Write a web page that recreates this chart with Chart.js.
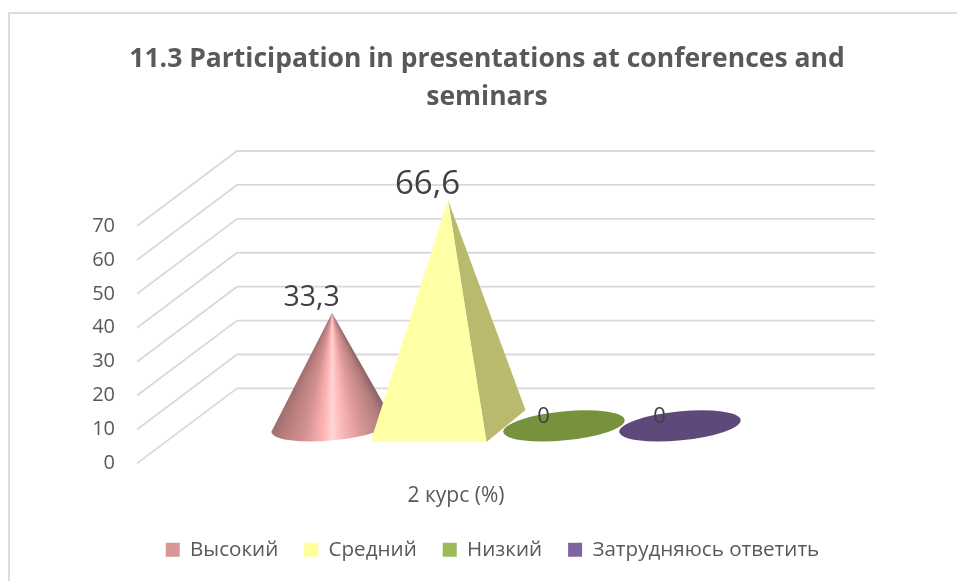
<!DOCTYPE html>
<html>
<head>
<meta charset="utf-8">
<title>11.3 Participation in presentations</title>
<script src="https://cdn.jsdelivr.net/npm/chart.js@4"></script>
<style>
  html, body { margin: 0; padding: 0; background: #fff; }
  #wrap { position: relative; width: 957px; height: 581px; overflow: hidden; }
  #frame { position: absolute; left: 8px; top: 12px; width: 949px; height: 569px; border-left: 2px solid #dcdcdc; border-top: 2px solid #dcdcdc; box-sizing: border-box; }
  canvas { position: absolute; left: 0; top: 0; }
</style>
</head>
<body>
<div id="wrap">
  <div id="frame"></div>
  <canvas id="chart" width="957" height="581"></canvas>
</div>
<script>
const titleLines = ["11.3 Participation in presentations at conferences and", "seminars"];
const categories = ["2 курс (%)"];
const seriesNames = ["Высокий", "Средний", "Низкий", "Затрудняюсь ответить"];
const seriesValues = [33.3, 66.6, 0, 0];
const valueLabels = ["33,3", "66,6", "0", "0"];
const legendColors = ["#d99694", "#ffff99", "#9bbb59", "#8064a2"];
const discColors = [null, null, "#76923c", "#5f497a"];

const FONT = '"Open Sans", sans-serif';
const TEXT = "#595959";
const DEPTH_X = 100;
const DEPTH_Y = -75;
const labelSizes = [28.5, 33, 22, 22];

// cone: shaded by angle around the tip, pyramid and zero discs are flat
function drawCone(ctx, cx, baseY, tipY, halfW) {
  const grad = ctx.createConicGradient(0, cx, tipY);
  const stops = [[58, "#7d5454"], [66, "#b27d7d"], [78, "#e09b9b"], [86, "#ffbcbc"], [90, "#ffd6d6"],
    [94, "#ffb4b4"], [103, "#d29090"], [112, "#b67c7c"], [118, "#9c6a6a"]];
  stops.forEach((s) => grad.addColorStop(s[0] / 360, s[1]));
  ctx.beginPath();
  ctx.moveTo(cx, tipY);
  ctx.ellipse(cx, baseY, halfW + 3, 14.5, -0.098, Math.PI, 0, true);
  ctx.closePath();
  ctx.fillStyle = grad;
  ctx.fill();
}

function drawPyramid(ctx, cx, baseY, tipY, halfW) {
  const dx = 19.5, dy = -16;
  ctx.beginPath();
  ctx.moveTo(cx, tipY);
  ctx.lineTo(cx + halfW - dx, baseY - dy);
  ctx.lineTo(cx + halfW + dx, baseY + dy);
  ctx.closePath();
  ctx.fillStyle = "#baba6e";
  ctx.fill();
  ctx.beginPath();
  ctx.moveTo(cx, tipY);
  ctx.lineTo(cx - halfW - dx, baseY - dy);
  ctx.lineTo(cx + halfW - dx, baseY - dy);
  ctx.closePath();
  ctx.fillStyle = "#ffffa6";
  ctx.fill();
}

function drawDisc(ctx, cx, baseY, halfW, color) {
  ctx.beginPath();
  ctx.ellipse(cx, baseY, halfW + 3, 14.5, -0.098, 0, Math.PI * 2);
  ctx.fillStyle = color;
  ctx.fill();
}

const perspective = {
  id: "perspective",
  afterLayout(chart) {
    chart.legend.left += 5.5;
    chart.legend.right += 5.5;
  },
  beforeDatasetsDraw(chart) {
    const { ctx, chartArea } = chart;
    const y = chart.scales.y;
    ctx.save();
    ctx.strokeStyle = "#d9d9d9";
    ctx.lineWidth = 1.8;
    y.ticks.forEach((t) => {
      const py = y.getPixelForValue(t.value);
      ctx.beginPath();
      ctx.moveTo(chartArea.left, py);
      ctx.lineTo(chartArea.left + DEPTH_X, py + DEPTH_Y);
      ctx.lineTo(chartArea.right + DEPTH_X, py + DEPTH_Y);
      ctx.stroke();
    });
    ctx.restore();
  },
  // the bars themselves are replaced by the 3d shapes below
  beforeDatasetDraw() {
    return false;
  },
  afterDatasetsDraw(chart) {
    const { ctx } = chart;
    const bars = seriesValues.map((v, i) => chart.getDatasetMeta(i).data[0]);
    bars.forEach((bar, i) => {
      const cx = bar.x + DEPTH_X / 2;
      const baseY = bar.base + DEPTH_Y / 2;
      const tipY = bar.y + DEPTH_Y / 2;
      const halfW = bar.width / 2;
      if (i === 0) drawCone(ctx, cx, baseY, tipY, halfW);
      else if (i === 1) drawPyramid(ctx, cx, baseY, tipY, halfW);
      else drawDisc(ctx, cx, baseY, halfW, discColors[i]);
    });
    ctx.save();
    ctx.fillStyle = "#404040";
    ctx.textAlign = "center";
    ctx.textBaseline = "middle";
    bars.forEach((bar, i) => {
      ctx.font = labelSizes[i] + "px " + FONT;
      const tipY = bar.y + DEPTH_Y / 2;
      ctx.fillText(valueLabels[i], bar.x + 29.5, tipY - (seriesValues[i] ? 15 : 9));
    });
    ctx.restore();
  },
};

new Chart(document.getElementById("chart"), {
  type: "bar",
  data: {
    labels: categories,
    datasets: seriesNames.map((name, i) => ({
      label: name,
      data: [seriesValues[i]],
      backgroundColor: legendColors[i],
    })),
  },
  plugins: [perspective],
  options: {
    responsive: false,
    animation: false,
    categoryPercentage: 0.727,
    barPercentage: 1,
    layout: { padding: { left: 17, right: 0, top: 0, bottom: 11 } },
    scales: {
      x: {
        grid: { display: false },
        border: { display: false },
        ticks: { color: TEXT, font: { family: FONT, size: 21 }, padding: 12 },
        afterFit: (scale) => { scale.height = 50; },
      },
      y: {
        min: 0,
        max: 70,
        grid: { display: false, drawTicks: false },
        border: { display: false },
        ticks: { stepSize: 10, color: TEXT, font: { family: FONT, size: 20 }, padding: 22 },
        afterFit: (scale) => { scale.width = 120; },
      },
      spare: {
        position: "right",
        min: 0,
        max: 1,
        grid: { display: false },
        border: { display: false },
        ticks: { display: false },
        afterFit: (scale) => { scale.width = 182; },
      },
    },
    plugins: {
      tooltip: { enabled: false },
      title: {
        display: true,
        text: titleLines,
        color: TEXT,
        font: { family: FONT, size: 26.5, weight: "bold", lineHeight: 1.434 },
        padding: { top: 40, bottom: 110 },
      },
      legend: {
        position: "bottom",
        labels: { boxWidth: 14, boxHeight: 14, padding: 26, color: TEXT, font: { family: FONT, size: 20.6 } },
      },
    },
  },
});
</script>
</body>
</html>
